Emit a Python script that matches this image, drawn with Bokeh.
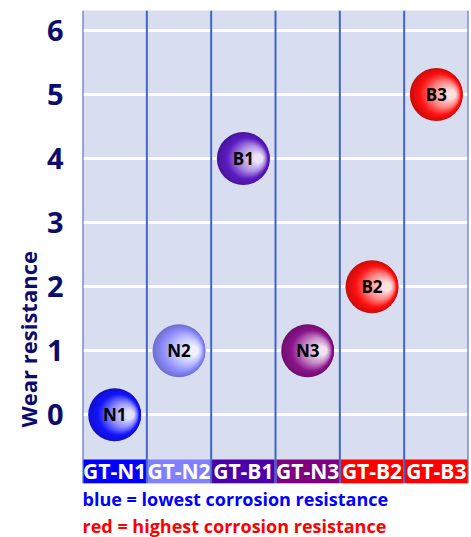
from bokeh.plotting import figure
from bokeh.models import Range1d, FixedTicker, Title
from bokeh.core.properties import value
from bokeh.embed import file_html
from bokeh.resources import INLINE

# ---- data ----
categories = ["GT-N1", "GT-N2", "GT-B1", "GT-N3", "GT-B2", "GT-B3"]
wear = [0, 1, 4, 1, 2, 5]
point_labels = ["N1", "N2", "B1", "N3", "B2", "B3"]
ball_colors = ["#1414ff", "#8c8cff", "#5c1cc4", "#8c148c", "#ff1010", "#ff1010"]
band_colors = ["#0000ff", "#8080ff", "#4a00aa", "#800080", "#ff0000", "#ff0000"]
y_ticks = [0, 1, 2, 3, 4, 5, 6]
y_title = "Wear resistance"
note_blue = "blue = lowest corrosion resistance"
note_red = "red = highest corrosion resistance"

FONT = "Open Sans"
NAVY = "#0c0c6c"
X0, X1 = -0.5, len(categories) - 0.5
Y0, Y1 = -1.073, 6.311
FW, FH = 386, 473
PX = FW / (X1 - X0)   # px per x unit
PY = FH / (Y1 - Y0)   # px per y unit

p = figure(frame_width=FW, frame_height=FH,
           x_range=Range1d(X0, X1), y_range=Range1d(Y0, Y1),
           output_backend="svg", toolbar_location=None,
           min_border_left=82, min_border_right=3,
           min_border_top=10, min_border_bottom=54)
p.background_fill_color = "#d8def0"
p.border_fill_color = "white"
p.outline_line_color = None
p.xaxis.visible = False
p.xgrid.visible = False
p.ygrid.ticker = FixedTicker(ticks=y_ticks)
p.ygrid.grid_line_color = "white"
p.ygrid.grid_line_width = 3

ax = p.yaxis[0]
ax.ticker = FixedTicker(ticks=y_ticks)
ax.axis_line_color = None
ax.major_tick_line_color = None
ax.minor_tick_line_color = None
ax.major_label_text_font = FONT
ax.major_label_text_font_style = "bold"
ax.major_label_text_font_size = "29px"
ax.major_label_text_color = NAVY
ax.major_label_standoff = 13

xs = list(range(len(categories)))

# category band
p.quad(left=[x - 0.488 for x in xs], right=[x + 0.488 for x in xs],
       bottom=Y0, top=-0.70, fill_color=band_colors, line_color=None)
p.text(x=xs, y=[-0.885] * len(xs), text=categories, text_color="white",
       text_font=value(FONT), text_font_style="bold", text_font_size="21px",
       text_align="center", text_baseline="middle")

# vertical separators
bx = [X0 + i for i in range(len(categories) + 1)]
p.segment(x0=bx, y0=Y0, x1=bx, y1=Y1, line_color="#4563c4", line_width=2)

# shaded spheres
def hex2rgb(h):
    h = h.lstrip("#")
    return [int(h[i:i + 2], 16) for i in (0, 2, 4)]

def mix(a, b, t):
    return [a[i] + (b[i] - a[i]) * t for i in range(3)]

def tohex(c):
    return "#%02x%02x%02x" % tuple(max(0, min(255, int(round(v)))) for v in c)

def shade(base, t):
    b = hex2rgb(base)
    edge = [v * 0.8 for v in b]
    white = [255, 255, 255]
    if t < 0.25:
        return tohex(mix(edge, b, t / 0.25))
    if t < 0.6:
        return tohex(mix(b, mix(b, white, 0.5), (t - 0.25) / 0.35))
    return tohex(mix(mix(b, white, 0.5), mix(b, white, 0.88), (t - 0.6) / 0.4))

R = 26.5
DX, DY = 15.0, 0.0
N = 32
for k in range(N):
    t = k / (N - 1)
    r = R * (1 - 0.84 * t)
    p.scatter(x=[x + t * DX / PX for x in xs], y=[w + t * DY / PY for w in wear],
              size=2 * r, marker="circle",
              fill_color=[shade(c, t) for c in ball_colors], line_color=None)

p.text(x=xs, y=wear, text=point_labels, text_color="black",
       text_font=value(FONT), text_font_style="bold", text_font_size="17px",
       text_align="center", text_baseline="middle")

# y title and notes (titles so they sit outside the frame)
p.add_layout(Title(text=y_title, align="left", offset=56, standoff=2,
                   text_font=FONT, text_font_style="bold", text_font_size="22px",
                   text_color=NAVY), "left")
p.add_layout(Title(text=note_blue, align="left", offset=0, standoff=2,
                   text_font=FONT, text_font_style="bold", text_font_size="18px",
                   text_color="#0000ff"), "below")
p.add_layout(Title(text=note_red, align="left", offset=0, standoff=0,
                   text_font=FONT, text_font_style="bold", text_font_size="18px",
                   text_color="#ff0000"), "below")

open("out.html", "w").write(file_html(p, INLINE))
